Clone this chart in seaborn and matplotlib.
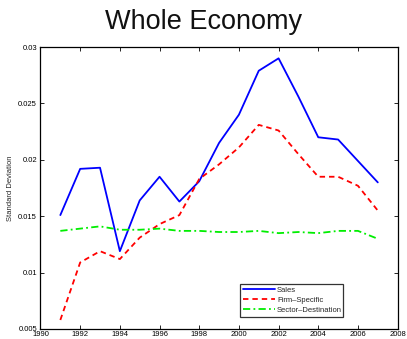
import matplotlib
matplotlib.use("Agg")
import matplotlib.pyplot as plt
import seaborn as sns
import pandas as pd

years = list(range(1991, 2008))
sales = [0.0151, 0.0192, 0.0193, 0.0119, 0.0164, 0.0185, 0.0163, 0.0181,
         0.0215, 0.0240, 0.0279, 0.0290, 0.0256, 0.0220, 0.0218, 0.0199, 0.0180]
firm_specific = [0.0058, 0.0109, 0.0119, 0.0112, 0.0131, 0.0143, 0.0151, 0.0183,
                 0.0196, 0.0211, 0.0231, 0.0226, 0.0205, 0.0185, 0.0185, 0.0177, 0.0155]
sector_destination = [0.0137, 0.0139, 0.0141, 0.0138, 0.0138, 0.0139, 0.0137, 0.0137,
                      0.0136, 0.0136, 0.0137, 0.0135, 0.0136, 0.0135, 0.0137, 0.0137, 0.0130]

series_names = ["Sales", "Firm\u2013Specific", "Sector\u2013Destination"]
series_values = [sales, firm_specific, sector_destination]
colors = ["#0000ff", "#ff0000", "#00ee00"]
linestyles = ["-", (0, (3, 2.2)), (0, (4, 1.8, 1, 1.8))]

x_ticks = list(range(1990, 2009, 2))
y_ticks = [0.005, 0.01, 0.015, 0.02, 0.025, 0.03]
y_tick_labels = ["0.005", "0.01", "0.015", "0.02", "0.025", "0.03"]

sns.set_style("ticks")
plt.rcParams["font.family"] = ["Liberation Sans", "DejaVu Sans"]

fig = plt.figure(figsize=(4.07, 3.39), dpi=100)
ax = fig.add_axes([0.0995, 0.0295, 0.8775, 0.8317])

for name, vals, col, ls in zip(series_names, series_values, colors, linestyles):
    df = pd.DataFrame({"year": years, "value": vals})
    sns.lineplot(data=df, x="year", y="value", ax=ax, color=col, label=name,
                 linewidth=1.3, linestyle=ls)

ax.set_xlim(1990, 2008)
ax.set_ylim(0.005, 0.03)
ax.set_xticks(x_ticks)
ax.set_xticklabels([str(t) for t in x_ticks])
ax.set_yticks(y_ticks)
ax.set_yticklabels(y_tick_labels)
ax.tick_params(direction="in", length=3, width=0.6, labelsize=5.5, pad=1.5,
               top=True, right=True, colors="black")
ax.tick_params(axis="y", pad=2.5)
for s in ax.spines.values():
    s.set_linewidth(0.9)
    s.set_color("black")

ax.set_xlabel("")
ax.set_ylabel("Standard Deviation", fontsize=5.5, labelpad=3)

fig.suptitle("Whole Economy", fontsize=19.5, x=0.5, y=0.972, va="top",
             color="#111111")

leg = ax.legend(loc="lower left", bbox_to_anchor=(0.5585, 0.0436, 0.2875, 0.12),
                mode="expand", fontsize=5.5, frameon=True, fancybox=False,
                handlelength=4.2, handletextpad=0.3, borderpad=0.35,
                labelspacing=0.35, borderaxespad=0)
leg.get_frame().set_edgecolor("black")
leg.get_frame().set_linewidth(0.9)

fig.savefig("out.png", dpi=100)
